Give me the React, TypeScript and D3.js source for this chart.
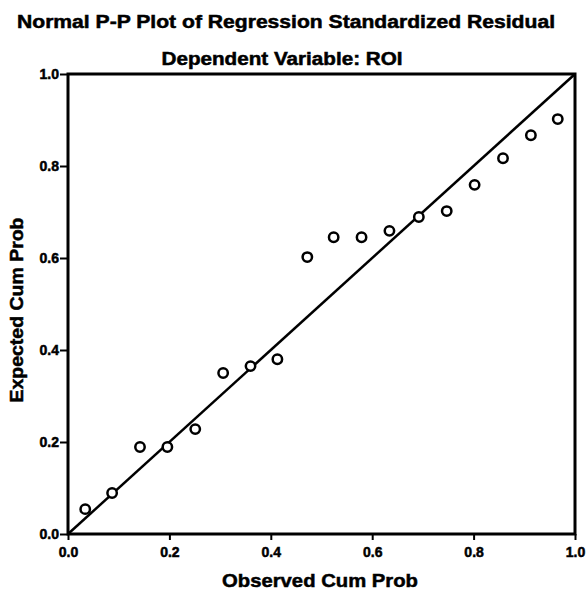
import React, { useEffect, useRef } from 'react';
import * as d3 from 'd3';

// observed cumulative probability (x) and expected cumulative probability (y)
const observed = [0.034, 0.087, 0.142, 0.196, 0.251, 0.306, 0.36, 0.413, 0.472, 0.524, 0.579, 0.634, 0.692, 0.747, 0.802, 0.858, 0.913, 0.966];
const expected = [0.054, 0.089, 0.189, 0.189, 0.228, 0.35, 0.365, 0.38, 0.602, 0.645, 0.645, 0.659, 0.689, 0.702, 0.759, 0.817, 0.867, 0.902];
const tickValues = [0, 0.2, 0.4, 0.6, 0.8, 1.0];

const App = () => {
  const ref = useRef<SVGSVGElement>(null);

  useEffect(() => {
    const width = 586;
    const height = 591;
    const left = 68, right = 575, top = 74, bottom = 534;
    const font = '"Liberation Sans", Arial, sans-serif';

    const svg = d3.select(ref.current);
    svg.selectAll('*').remove();
    svg.attr('width', width).attr('height', height);

    svg.append('rect').attr('width', width).attr('height', height).attr('fill', '#fff');

    const x = d3.scaleLinear().domain([0, 1]).range([left, right]);
    const y = d3.scaleLinear().domain([0, 1]).range([bottom, top]);

    const heavy = (sel: any) => sel
      .attr('font-family', font).attr('font-weight', 700)
      .attr('fill', '#000').attr('stroke', '#000').attr('stroke-width', 0.5);

    // titles
    svg.append('text')
      .attr('x', 286).attr('y', 28)
      .attr('text-anchor', 'middle')
      .attr('font-size', 18)
      .attr('textLength', 538).attr('lengthAdjust', 'spacingAndGlyphs')
      .call(heavy)
      .text('Normal P-P Plot of Regression Standardized Residual');

    svg.append('text')
      .attr('x', 282).attr('y', 65)
      .attr('text-anchor', 'middle')
      .attr('font-size', 18)
      .attr('textLength', 241).attr('lengthAdjust', 'spacingAndGlyphs')
      .call(heavy)
      .text('Dependent Variable: ROI');

    // axes
    const xAxis = d3.axisBottom(x).tickValues(tickValues).tickFormat(d3.format('.1f')).tickSize(6).tickSizeOuter(0);
    const yAxis = d3.axisLeft(y).tickValues(tickValues).tickFormat(d3.format('.1f')).tickSize(8).tickPadding(1).tickSizeOuter(0);

    const gx = svg.append('g').attr('transform', `translate(0,${bottom})`).call(xAxis);
    const gy = svg.append('g').attr('transform', `translate(${left},0)`).call(yAxis);
    [gx, gy].forEach(g => {
      g.select('.domain').remove();
      g.selectAll('line').attr('stroke', '#000').attr('stroke-width', 2);
      g.selectAll('text')
        .attr('font-size', 14)
        .call(heavy);
    });
    gx.selectAll('text').attr('y', 13);

    // frame
    svg.append('rect')
      .attr('x', left).attr('y', top)
      .attr('width', right - left).attr('height', bottom - top)
      .attr('fill', 'none').attr('stroke', '#000').attr('stroke-width', 3);

    // reference diagonal
    const line = d3.line<number>().x(d => x(d)).y(d => y(d));
    svg.append('path')
      .attr('d', line([0, 1]))
      .attr('stroke', '#000').attr('stroke-width', 2.5).attr('fill', 'none');

    // points
    svg.append('g').selectAll('circle')
      .data(observed.map((o, i) => [o, expected[i]]))
      .enter()
      .append('circle')
      .attr('cx', d => x(d[0]))
      .attr('cy', d => y(d[1]))
      .attr('r', 4.7)
      .attr('fill', '#fff')
      .attr('stroke', '#000')
      .attr('stroke-width', 2.5);

    // axis titles
    svg.append('text')
      .attr('x', 320).attr('y', 587)
      .attr('text-anchor', 'middle')
      .attr('font-size', 19)
      .attr('textLength', 196).attr('lengthAdjust', 'spacingAndGlyphs')
      .call(heavy)
      .text('Observed Cum Prob');

    svg.append('text')
      .attr('transform', 'translate(23,310) rotate(-90)')
      .attr('text-anchor', 'middle')
      .attr('font-size', 19)
      .attr('textLength', 185).attr('lengthAdjust', 'spacingAndGlyphs')
      .call(heavy)
      .text('Expected Cum Prob');
  }, []);

  return (
    <div style={{ position: 'absolute', left: 0, top: 0 }}>
      <svg ref={ref} style={{ display: 'block' }}></svg>
    </div>
  );
};

export default App;
